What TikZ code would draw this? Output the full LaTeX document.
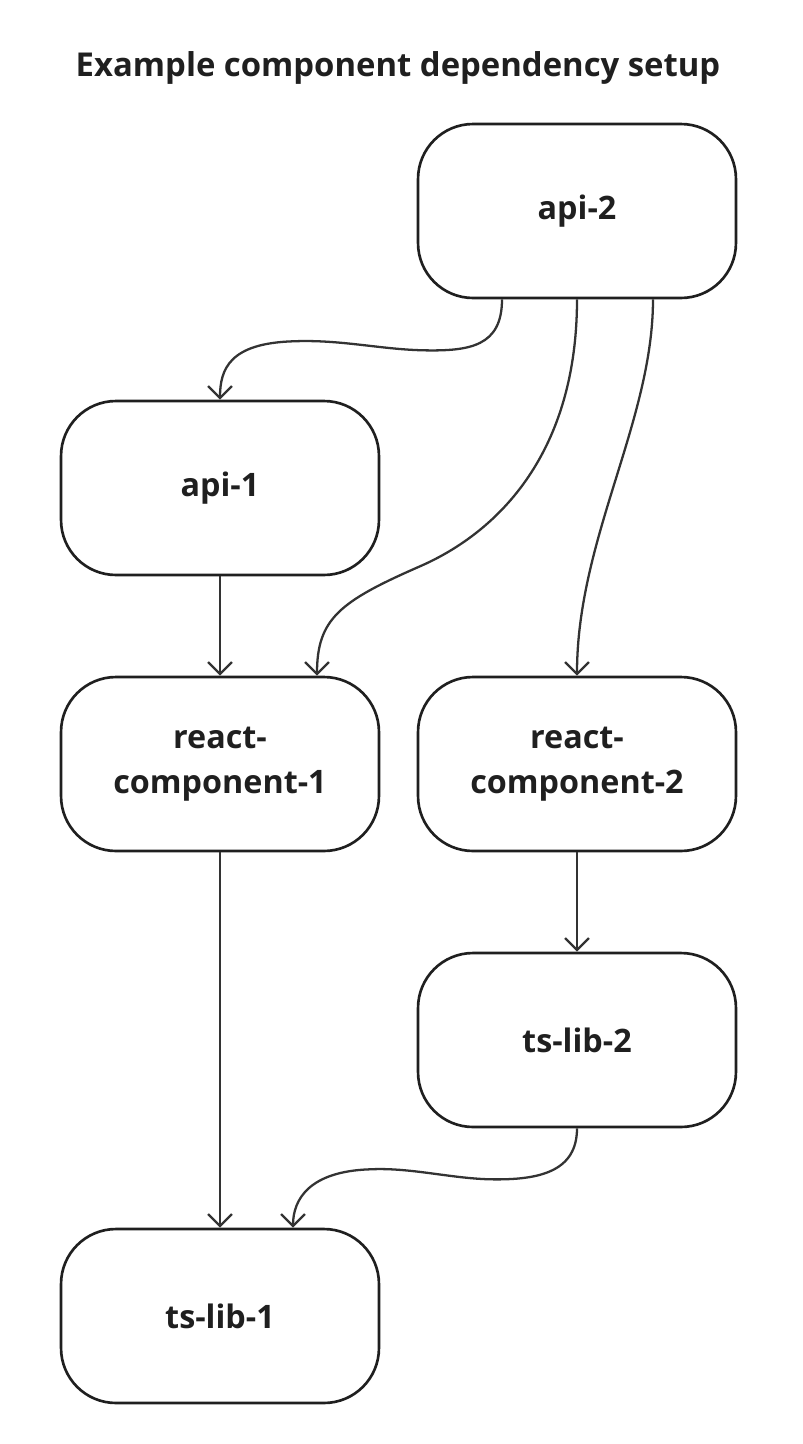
\documentclass[tikz,border=0pt]{standalone}
\usepackage{fontspec}
\setmainfont{Open Sans}
\usetikzlibrary{arrows.meta,calc}

\begin{document}
\begin{tikzpicture}[x=0.02cm,y=-0.02cm,
    box/.style={draw=black!88,line width=1.5pt,rounded corners=1.1cm,
        minimum width=6.36cm,minimum height=3.48cm,align=center,
        text=black!88,font=\bfseries\fontsize{18.4}{25.6}\selectfont},
    dep/.style={draw=black!80,line width=1.3pt,
        -{Straight Barb[length=0.24cm,width=0.48cm,line width=1.3pt]}}]
    \useasboundingbox (0,0) rectangle (802,1444);
    \node [text=black!88,font=\bfseries\fontsize{18.7}{22}\selectfont] (title) at (398,68) {Example component dependency setup};
    \node [box] (api2) at (577,211) {api-2};
    \node [box] (api1) at (220,488) {api-1};
    \node [box] (rc1) at (220,764) {react-\\component-1};
    \node [box] (rc2) at (577,764) {react-\\component-2};
    \node [box] (ts2) at (577,1040) {ts-lib-2};
    \node [box] (ts1) at (220,1316) {ts-lib-1};
    \draw [dep] ($(api2.south)+(-75,0)$) .. controls +(0,47) and +(47,1) .. ++(-79,51)
        .. controls +(-43,-1) and +(47,-2) .. ++(-130,-9)
        .. controls +(-63,2) and +(0,-31) .. (api1.north);
    \draw [dep] (api2.south) .. controls +(0,152) and +(80,-35) .. ++(-157,267)
        .. controls +(-80,35) and +(0,-57) .. ($(rc1.north)+(97,0)$);
    \draw [dep] ($(api2.south)+(76,0)$) .. controls +(0,122) and +(0,-137) .. (rc2.north);
    \draw [dep] (api1) -- (rc1);
    \draw [dep] (rc2) -- (ts2);
    \draw [dep] (rc1) -- (ts1);
    \draw [dep] (ts2.south) .. controls +(0,43) and +(50,1) .. ++(-87,51)
        .. controls +(-40,-1) and +(40,-2) .. ++(-120,-10)
        .. controls +(-60,2) and +(0,-29) .. ($(ts1.north)+(73,0)$);
\end{tikzpicture}
\end{document}
